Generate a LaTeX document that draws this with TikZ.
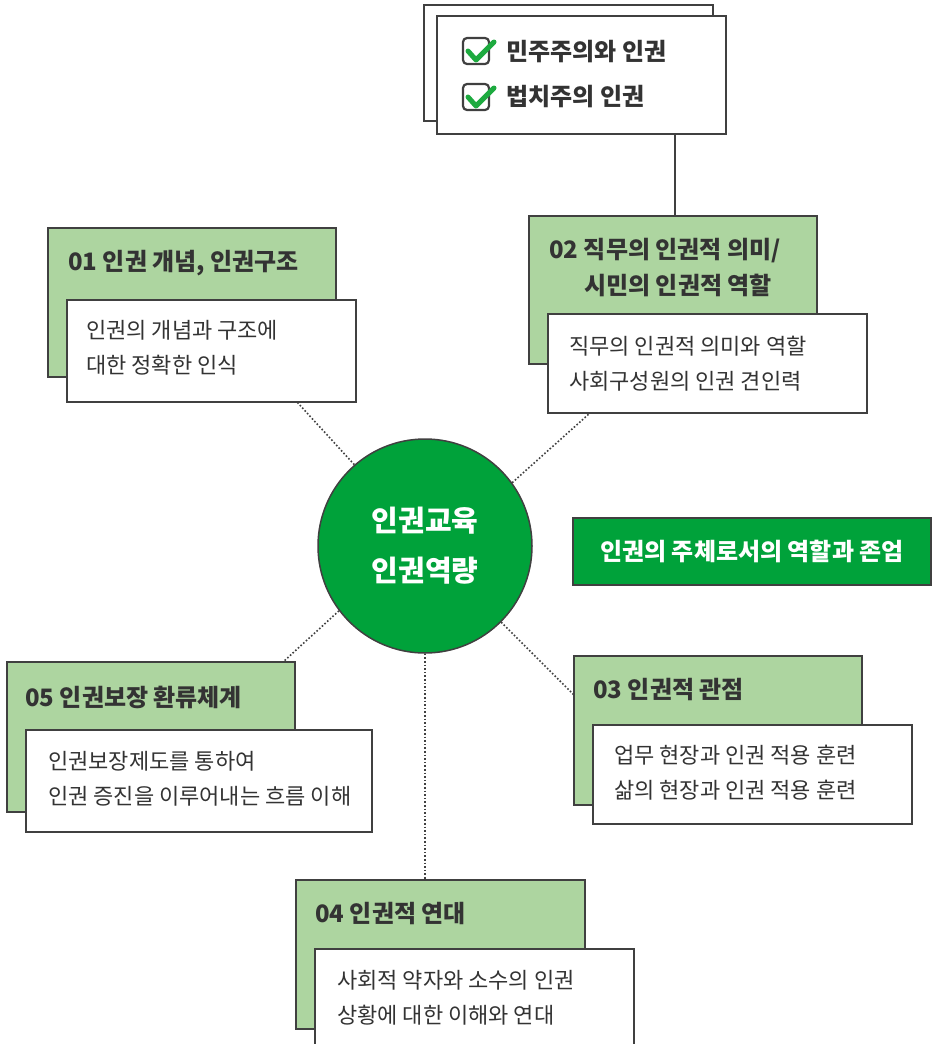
\documentclass[tikz,border=0pt]{standalone}
\usepackage{fontspec}
\newfontfamily\kr{Noto Sans CJK KR}
\usetikzlibrary{positioning}
\definecolor{linegray}{HTML}{404040}
\definecolor{palegreen}{HTML}{ADD5A0}
\definecolor{deepgreen}{HTML}{00A23A}
\definecolor{checkgreen}{HTML}{1DAA3F}
\definecolor{inkgray}{HTML}{333333}
\tikzset{
    raw card/.style={rectangle, draw=linegray, line width=2pt, anchor=north west, inner sep=0pt, outer sep=0pt},
    head card/.style={raw card, fill=palegreen},
    body card/.style={raw card, fill=white},
    head text/.style={anchor=west, inner sep=0pt, text=inkgray, align=left, font=\kr\bfseries\fontsize{24}{36}\selectfont},
    body text/.style={anchor=west, inner sep=0pt, text=inkgray, align=left, font=\kr\fontsize{22}{35}\selectfont},
    link/.style={dotted, line width=1.6pt, linegray},
    chkbox/.pic={
        \draw[linegray, line width=2.2pt, rounded corners=4pt] (-13,-13) rectangle (13,13);
        \draw[checkgreen, line width=5pt, line cap=round, line join=round] (-8,0) -- (0,9) -- (18,-9);
    }
}
\begin{document}
\begin{tikzpicture}[x=1pt, y=-1pt]
    \useasboundingbox[fill=white] (0,0) rectangle (935,1044);
    % top note
    \node[body card, minimum width=289pt, minimum height=116pt] (topback) at (424,5) {};
    \node[body card, minimum width=289pt, minimum height=118pt] (topfront) at (437,16) {};
    \pic at (476,51) {chkbox};
    \pic at (476,97) {chkbox};
    \node[head text] (topa) at (506,52) {민주주의와 인권};
    \node[head text] (topb) at (506,97) {법치주의 인권};
    % 01
    \node[head card, minimum width=288pt, minimum height=149pt] (t1back) at (48,228) {};
    \node[body card, minimum width=289pt, minimum height=102pt] (t1body) at (67,300) {};
    \node[head text] (t1head) at (68,263) {01 인권 개념, 인권구조};
    \node[body text] (t1text) at (86,348) {인권의 개념과 구조에\\대한 정확한 인식};
    % 02
    \node[head card, minimum width=288pt, minimum height=148pt] (t2back) at (529,216) {};
    \node[body card, minimum width=319pt, minimum height=99pt] (t2body) at (548,314) {};
    \node[head text] (t2head) at (549,268) {02 직무의 인권적 의미/\\\hspace*{35pt}시민의 인권적 역할};
    \node[body text] (t2text) at (569,364) {직무의 인권적 의미와 역할\\사회구성원의 인권 견인력};
    % center
    \node[circle, draw=linegray, line width=1.5pt, fill=deepgreen, minimum size=214pt, inner sep=0pt,
        text=white, align=center, font=\kr\bfseries\fontsize{29}{50}\selectfont] (core) at (425,546) {인권교육\\인권역량};
    \node[raw card, fill=deepgreen, minimum width=358pt, minimum height=67pt, text=white,
        font=\kr\bfseries\fontsize{24}{26}\selectfont] (role) at (573,518) {인권의 주체로서의 역할과 존엄};
    % 03
    \node[head card, minimum width=288pt, minimum height=149pt] (t3back) at (574,656) {};
    \node[body card, minimum width=319pt, minimum height=99pt] (t3body) at (593,725) {};
    \node[head text] (t3head) at (593,690) {03 인권적 관점};
    \node[body text] (t3text) at (614,773) {업무 현장과 인권 적용 훈련\\삶의 현장과 인권 적용 훈련};
    % 05
    \node[head card, minimum width=288pt, minimum height=150pt] (t5back) at (7,662) {};
    \node[body card, minimum width=346pt, minimum height=102pt] (t5body) at (26,730) {};
    \node[head text] (t5head) at (25,697) {05 인권보장 환류체계};
    \node[body text] (t5text) at (48,779) {인권보장제도를 통하여\\인권 증진을 이루어내는 흐름 이해};
    % 04
    \node[head card, minimum width=289pt, minimum height=149pt] (t4back) at (296,880) {};
    \node[body card, minimum width=319pt, minimum height=110pt] (t4body) at (315,949) {};
    \node[head text] (t4head) at (315,914) {04 인권적 연대};
    \node[body text] (t4text) at (337,998) {사회적 약자와 소수의 인권\\상황에 대한 이해와 연대};
    % connectors
    \draw[linegray, line width=2pt] ([xshift=-51pt]topfront.south east) -- ([xshift=-51pt]topfront.south east |- t2back.north);
    \draw[link] (core.131) -- ([xshift=-59pt]t1body.south east);
    \draw[link] (core.36) -- ([xshift=42pt]t2body.south west);
    \draw[link] (core.315) -- ([yshift=-39pt]t3back.north west);
    \draw[link] (core.south) -- (core.south |- t4back.north);
    \draw[link] (core.217) -- ([xshift=-12pt]t5back.north east);
\end{tikzpicture}
\end{document}
